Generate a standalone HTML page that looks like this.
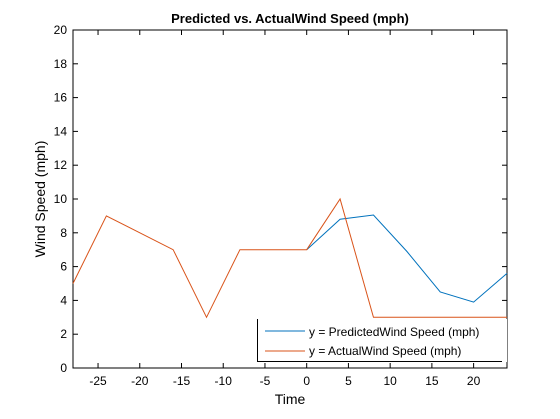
<!DOCTYPE html>
<html><head><style>
body{margin:0;background:#fff;}
svg{font-family:"Liberation Sans",Arial,sans-serif;}
</style></head><body>
<svg id="c" width="560" height="414">
<rect width="560" height="414" fill="#fff"/>
</svg>
<script>
const xTicks=[-25,-20,-15,-10,-5,0,5,10,15,20];
const yTicks=[0,2,4,6,8,10,12,14,16,18,20];
const predX=[0,4,8,12,16,20,24];
const predY=[7,8.8,9.05,6.9,4.5,3.9,5.6];
const actX=[-28,-24,-16,-12,-8,0,4,8,12,16,20,24];
const actY=[5,9,7,3,7,7,10,3,3,3,3,3];
const L=73,R=507,T=30,B=368,xmin=-28,xmax=24,ymin=0,ymax=20;
const sx=v=>L+(v-xmin)/(xmax-xmin)*(R-L);
const sy=v=>B-(v-ymin)/(ymax-ymin)*(B-T);
const svg=document.getElementById('c');const NS='http://www.w3.org/2000/svg';
function mk(t,a,p){const e=document.createElementNS(NS,t);for(const k in a)e.setAttribute(k,a[k]);(p||svg).appendChild(e);return e;}
const ax=mk('rect',{x:L,y:T,width:R-L,height:B-T,fill:'#fff',stroke:'#000','stroke-width':1});


xTicks.forEach(v=>{const x=sx(v);
mk('line',{x1:x,x2:x,y1:B,y2:B-5,stroke:'#000'});mk('line',{x1:x,x2:x,y1:T,y2:T+5,stroke:'#000'});
const t=mk('text',{x:x,y:B+17,'font-size':12,'text-anchor':'middle'});t.textContent=v;

});
yTicks.forEach(v=>{const y=sy(v);
mk('line',{x1:L,x2:L+5,y1:y,y2:y,stroke:'#000'});mk('line',{x1:R,x2:R-5,y1:y,y2:y,stroke:'#000'});
const t=mk('text',{x:L-6,y:y+4,'font-size':12,'text-anchor':'end'});t.textContent=v;

});
function line(xs,ys,c,n){const p=mk('polyline',{points:xs.map((x,i)=>sx(x)+','+sy(ys[i])).join(' '),fill:'none',stroke:c,'stroke-width':1});

}
line(predX,predY,'#0072bd','predicted-line');
line(actX,actY,'#d95319','actual-line');
const lg=mk('g',{});


mk('rect',{x:257,y:319,width:250,height:43,fill:'#fff'},lg);
mk('line',{x1:257.5,x2:257.5,y1:319,y2:362,stroke:'#000'},lg);
mk('line',{x1:257,x2:502,y1:361.5,y2:361.5,stroke:'#000'},lg);
mk('line',{x1:265,x2:305,y1:331,y2:331,stroke:'#0072bd'},lg);
mk('line',{x1:265,x2:305,y1:351,y2:351,stroke:'#d95319'},lg);
let t1=mk('text',{x:309,y:336,'font-size':12},lg);t1.textContent='y = PredictedWind Speed (mph)';
let t2=mk('text',{x:309,y:355,'font-size':12},lg);t2.textContent='y = ActualWind Speed (mph)';
let tt=mk('text',{x:290,y:23,'font-size':13,'font-weight':'bold','text-anchor':'middle'});tt.textContent='Predicted vs. ActualWind Speed (mph)';


let xl=mk('text',{x:290,y:404,'font-size':14,'text-anchor':'middle'});xl.textContent='Time';


let yl=mk('text',{x:0,y:0,'font-size':14,'text-anchor':'middle',transform:'translate(45,199) rotate(-90)'});yl.textContent='Wind Speed (mph)';


</script>
</body></html>
